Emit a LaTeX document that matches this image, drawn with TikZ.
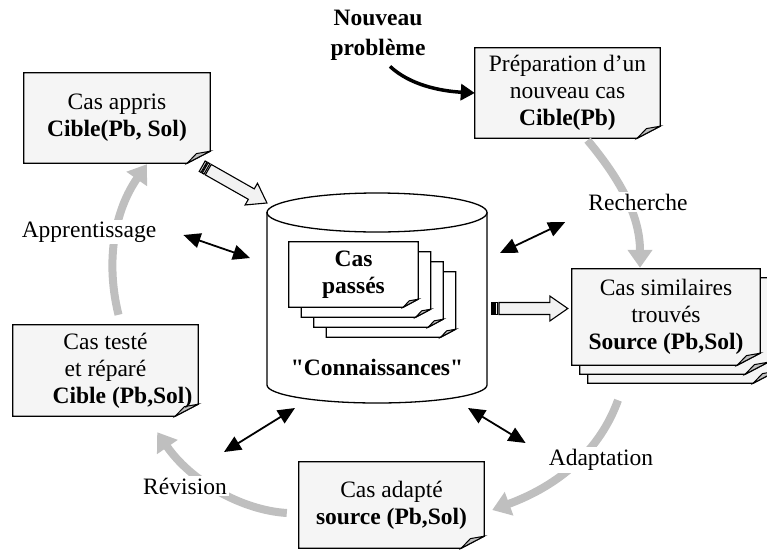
\documentclass[tikz,border=0pt]{standalone}
\usepackage{fontspec}
\setmainfont{Liberation Serif}
\newfontfamily\plainserif{Liberation Serif}
\usetikzlibrary{arrows.meta,calc}
\pgfdeclarelayer{bg}
\pgfsetlayers{bg,main}
% folded-corner document shape: #1 nw, #2 se, #3 fold dx, #4 fold dy, #5 fill
\newcommand\docpath[5]{%
  \filldraw[line width=1.3pt, fill=#5] let \p1=#1, \p2=#2 in
    (\x1,\y1) -- (\x2,\y1) -- (\x2,\y2+#4pt) -- (\x2-#3pt,\y2) -- (\x1,\y2) -- cycle;
  \filldraw[line width=1pt, fill=black!25] let \p2=#2 in
    (\x2-#3pt,\y2) -- (\x2,\y2+#4pt) -- (\x2-0.6*#3pt,\y2+0.8*#4pt) -- cycle;
}
\begin{document}
\begin{tikzpicture}[x=1pt,y=-1pt,
  txt/.style={font=\fontsize{23.5}{27}\selectfont, align=center, inner sep=0pt},
  lab/.style={txt, fill=white, inner sep=2pt},
  cyc/.style={draw=black!25, line width=8pt, -{Triangle[length=18pt,width=24pt]}},
  dbl/.style={line width=1.8pt, {Triangle[length=17pt,width=15pt]}-{Triangle[length=17pt,width=15pt]}},
  pics/hollowarrow/.style={code={
    \filldraw[fill=black!5, line width=1.1pt] (0,-6) rectangle (2,6) (3.5,-6) rectangle (5.5,6);
    \filldraw[fill=black!5, line width=1.1pt] (7,-6) -- (#1-18,-6) -- (#1-18,-12.5) -- (#1,0)
      -- (#1-18,12.5) -- (#1-18,6) -- (7,6) -- cycle;
  }}]
\useasboundingbox (0,0) rectangle (767,549);

% ---------- text nodes ----------
\node[txt, minimum width=186pt, minimum height=90pt] (A) at (117,118) {Cas appris\\\textbf{Cible(Pb, Sol)}};
\node[txt, minimum width=185pt, minimum height=90pt] (P) at (567.5,93) {Préparation d'un\\nouveau cas\\\textbf{Cible(Pb)}};
\node[txt, minimum width=188pt, minimum height=96pt] (S) at (666,317) {Cas similaires\\trouvés\\\textbf{Source (Pb,Sol)}};
\node[txt, minimum width=185pt, minimum height=91pt] (T) at (105.5,370.5) {Cas testé\\et réparé\\\hspace*{34pt}\textbf{Cible (Pb,Sol)}};
\node[txt, minimum width=185pt, minimum height=86pt] (D) at (391.5,505) {Cas adapté\\\textbf{source (Pb,Sol)}};
\node[txt, minimum width=129pt, minimum height=65pt] (C) at (353.5,274.5) {\textbf{Cas}\\\textbf{passés}};
\node[txt] (Kl) at (377,367) {\plainserif\bfseries "Connaissances"};
\node[txt, font=\fontsize{23.5}{30}\selectfont] (N) at (378,35) {\textbf{Nouveau}\\\textbf{problème}};
\coordinate (K) at (377,300);

% ---------- shapes (background layer) ----------
\begin{pgfonlayer}{bg}
  \filldraw[fill=white, line width=1.3pt] (267,212) -- (267,385)
    arc[start angle=180, end angle=0, x radius=110, y radius=18] -- (487,212);
  \filldraw[fill=white, line width=1.3pt] (377,212.5) ellipse[x radius=110, y radius=19.5];
  \foreach \k in {3,2,1}{
    \docpath{($(C.north west)+(12.5*\k,10*\k)$)}{($(C.south east)+(12.5*\k,10*\k)$)}{15}{8}{white}
  }
  \docpath{(C.north west)}{(C.south east)}{15}{8}{white}
  \docpath{(A.north west)}{(A.south east)}{23}{12}{black!4}
  \docpath{(P.north west)}{(P.south east)}{23}{12}{black!4}
  \foreach \k in {2,1}{
    \docpath{($(S.north west)+(8*\k,9*\k)$)}{($(S.south east)+(8*\k,9*\k)$)}{23}{12}{black!4}
  }
  \docpath{(S.north west)}{(S.south east)}{23}{12}{black!4}
  \docpath{(T.north west)}{(T.south east)}{23}{12}{black!4}
  \docpath{(D.north west)}{(D.south east)}{23}{12}{black!4}
\end{pgfonlayer}

% ---------- gray cycle arcs ----------
\draw[cyc] ($(P.south)+(20,2)$) .. controls (625,185) and (640,220) .. ($(S.north)+(-26,-1)$);
\draw[cyc] ($(S.south)+(-48,35)$) .. controls (600,450) and (560,485) .. ($(D.east)+(8,5)$);
\draw[cyc] ($(D.west)+(-12,8)$) .. controls (240,510) and (190,480) .. ($(T.south east)+(-41,16)$);
\draw[cyc] ($(T.north)+(13,-10)$) .. controls (105,260) and (115,210) .. ($(A.south)+(30,1)$);

\node[lab] (Lr) at (638,202) {Recherche};
\node[lab] (La) at (601,460) {Adaptation};
\node[lab] (Lv) at (185,486) {Révision};
\node[lab] (Lp) at (89,232) {Apprentissage};

% ---------- black double arrows ----------
\coordinate (e1) at ($(Lp.east)+(25,3)$);
\coordinate (k1) at ($(K)+(-127,-42)$);
\coordinate (k2) at ($(K)+(123,-47)$);
\coordinate (e2) at ($(Lr.west)+(-21,20)$);
\coordinate (e3) at ($(Lv.east)+(-5,-34)$);
\coordinate (k3) at ($(K)+(-82,108)$);
\coordinate (k4) at ($(K)+(91,108)$);
\coordinate (e4) at ($(La.west)+(-21,-17)$);
\draw[dbl] (e1) -- (k1);
\draw[dbl] (k2) -- (e2);
\draw[dbl] (e3) -- (k3);
\draw[dbl] (k4) -- (e4);

% ---------- new problem arrow ----------
\draw[line width=3.5pt, -{Triangle[length=14pt,width=16pt]}]
  ($(N.south)+(12,6)$) .. controls (410,85) and (440,91) .. (P.west);

% ---------- hollow striped arrows ----------
\coordinate (h1a) at ($(A.south east)+(-8,3)$);
\coordinate (h1b) at ($(K)+(-110,-97)$);
\coordinate (h2a) at ($(K)+(115,8.5)$);
\coordinate (h2b) at ($(S.west)+(-4,-8.5)$);
\path let \p1=(h1a), \p2=(h1b), \n1={atan2(\y2-\y1,\x2-\x1)}, \n2={veclen(\x2-\x1,\y2-\y1)} in
  \pgfextra{\xdef\hAang{\n1}\xdef\hAlen{\n2}};
\path let \p1=(h2a), \p2=(h2b), \n1={atan2(\y2-\y1,\x2-\x1)}, \n2={veclen(\x2-\x1,\y2-\y1)} in
  \pgfextra{\xdef\hBang{\n1}\xdef\hBlen{\n2}};
\pic[rotate=\hAang] at (h1a) {hollowarrow=\hAlen};
\pic[rotate=\hBang] at (h2a) {hollowarrow=\hBlen};
\end{tikzpicture}
\end{document}
